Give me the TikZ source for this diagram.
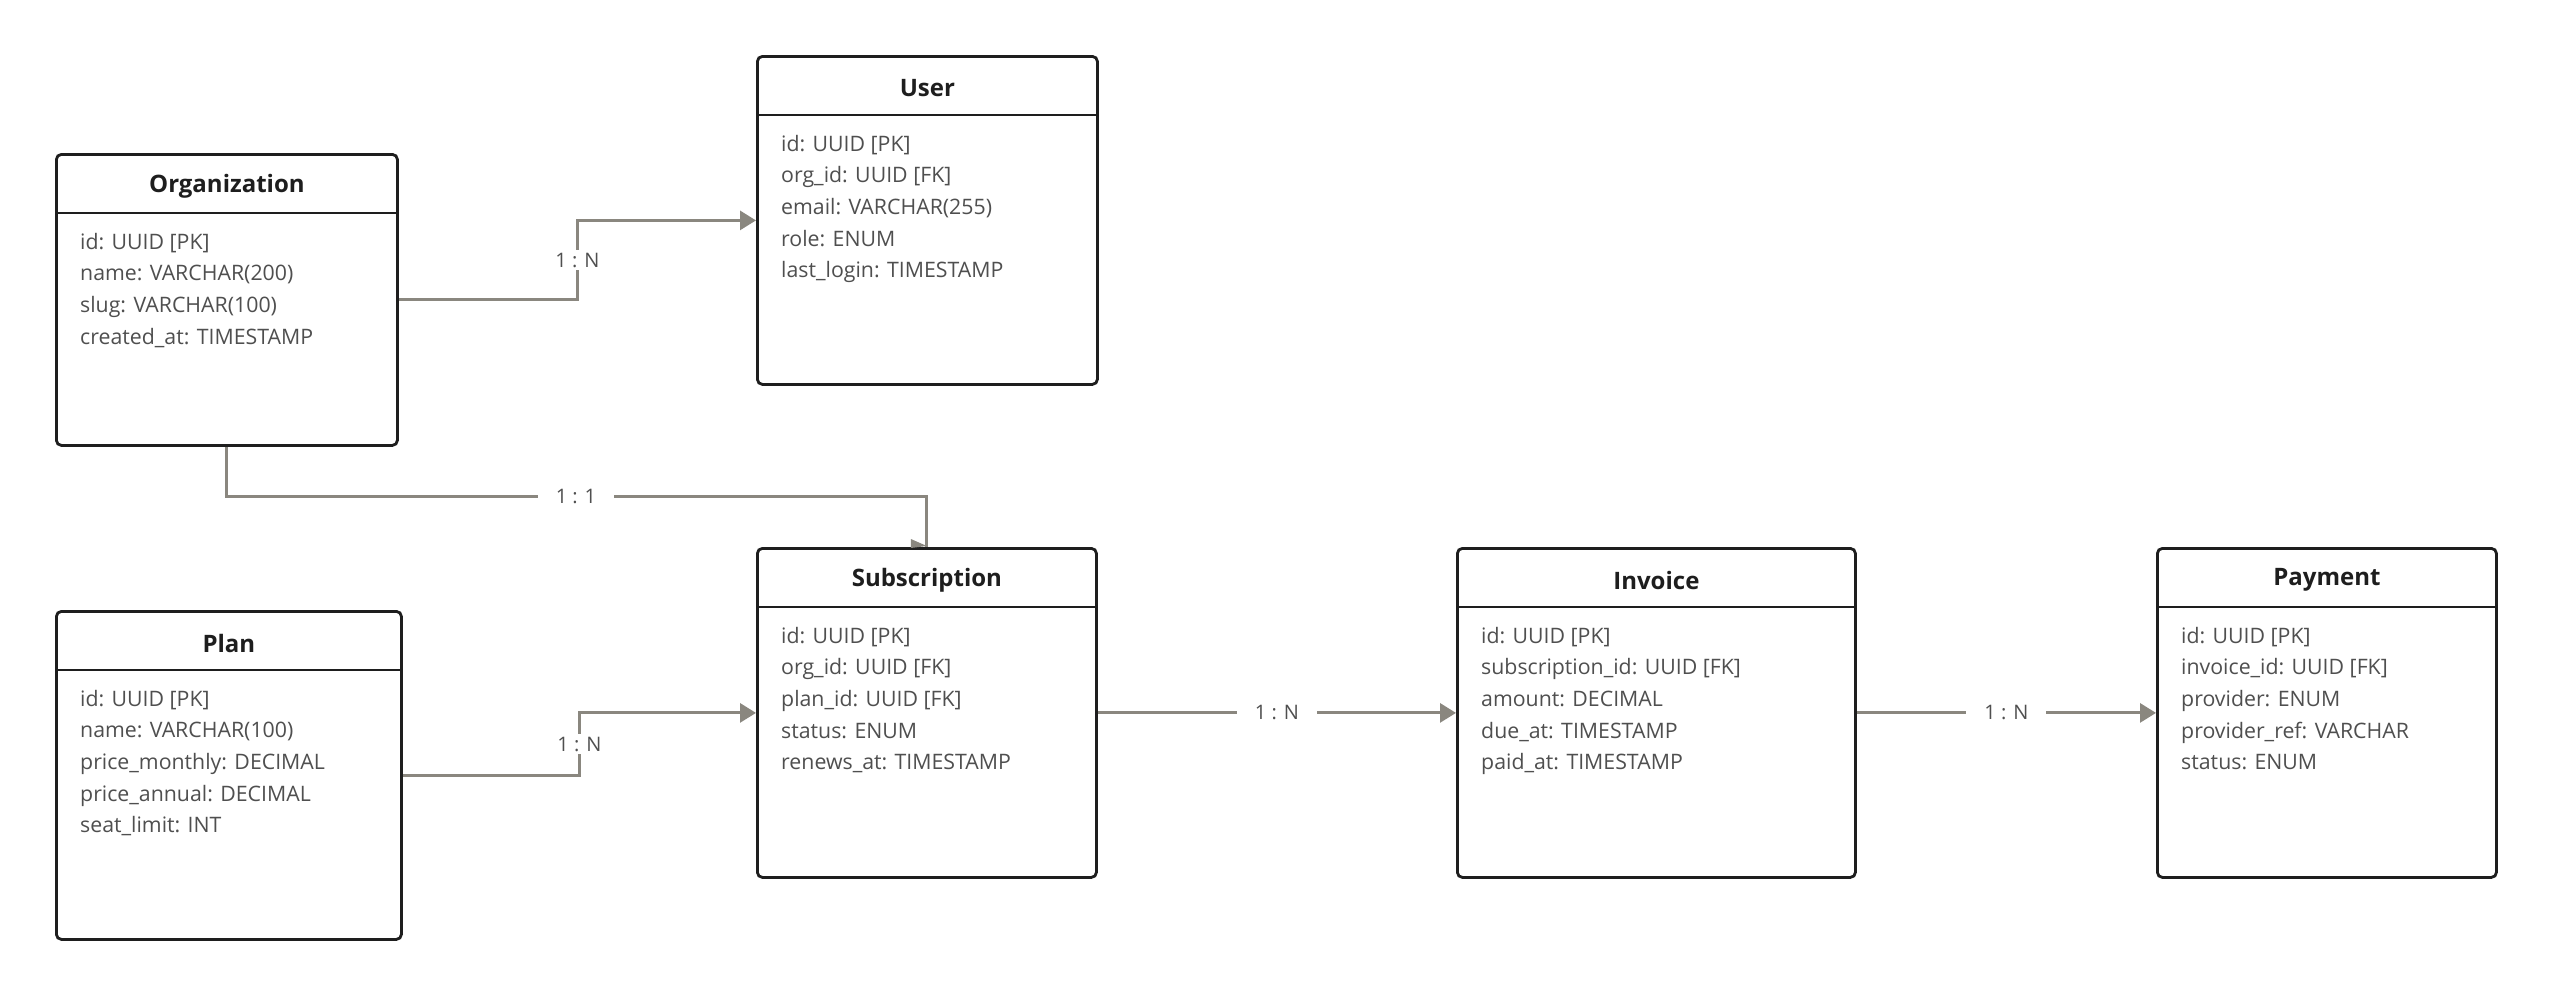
\documentclass[tikz,border=0pt]{standalone}
\usepackage{fontspec}
\setmainfont{Open Sans}
\usetikzlibrary{arrows.meta,calc}
\definecolor{edgec}{HTML}{8A877F}
\definecolor{ink}{HTML}{1E1E1E}
\definecolor{attrc}{HTML}{4F4F4F}
\newcommand\mkentity[7]{%
  \node[entity, minimum width=#4pt, minimum height=#5pt] (#1) at (#2,#3) {};
  \draw[ink, line width=2.8pt] ([yshift=-60pt]#1.north west) -- ([yshift=-60pt]#1.north east);
  \node[etitle] (#1-t) at ([yshift=-33pt]#1.north) {#6};
  \foreach \t [count=\i] in {#7}
    \node[eattr] (#1-\i) at ([xshift=25pt, yshift={-(96+(\i-1)*31.7)*1pt}]#1.north west) {\t};
}
\begin{document}
\begin{tikzpicture}[x=1pt,y=-1pt,
  entity/.style={draw=ink, line width=2.8pt, rounded corners=5pt, fill=white, inner sep=0pt, anchor=north west},
  etitle/.style={font=\fontsize{24}{28}\selectfont\bfseries, text=ink, inner sep=0pt},
  eattr/.style={font=\fontsize{21.3}{24}\selectfont, text=attrc, inner sep=0pt, anchor=base west},
  conn/.style={draw=edgec, line width=3pt, -{Triangle[length=16pt, width=19pt]}},
  plain/.style={draw=edgec, line width=3pt},
  lbl/.style={fill=white, text=attrc, font=\fontsize{20}{24}\selectfont, inner xsep=18pt, inner ysep=3pt}]
\useasboundingbox (0,0) rectangle (2552,994);
\mkentity{org}{55}{153}{341}{291}{Organization}{{id: UUID [PK]},{name: VARCHAR(200)},{slug: VARCHAR(100)},{created\_at: TIMESTAMP}}
\mkentity{user}{756}{55}{340}{328}{User}{{id: UUID [PK]},{org\_id: UUID [FK]},{email: VARCHAR(255)},{role: ENUM},{last\_login: TIMESTAMP}}
\mkentity{plan}{55}{610}{345}{328}{Plan}{{id: UUID [PK]},{name: VARCHAR(100)},{price\_monthly: DECIMAL},{price\_annual: DECIMAL},{seat\_limit: INT}}
\mkentity{sub}{756}{547}{339}{329}{Subscription}{{id: UUID [PK]},{org\_id: UUID [FK]},{plan\_id: UUID [FK]},{status: ENUM},{renews\_at: TIMESTAMP}}
\mkentity{inv}{1456}{547}{398}{329}{Invoice}{{id: UUID [PK]},{subscription\_id: UUID [FK]},{amount: DECIMAL},{due\_at: TIMESTAMP},{paid\_at: TIMESTAMP}}
\mkentity{pay}{2156}{547}{339}{329}{Payment}{{id: UUID [PK]},{invoice\_id: UUID [FK]},{provider: ENUM},{provider\_ref: VARCHAR},{status: ENUM}}
% connectors
\coordinate (m1) at ($(org.east)!0.5!(user.west)$);
\draw[conn] (org.east) -| (m1) |- (user.west);
\node[lbl] (l1) at (m1) {1 : N};
\coordinate (m2) at ($(org.south)!0.5!(sub.north)$);
\coordinate (m2b) at (576,0 |- m2);
\draw[plain] (org.south) |- (m2b) -| (sub.north);
\fill[edgec] ([xshift=-16pt, yshift=8pt]sub.north) -- ([yshift=1pt]sub.north) -- ([xshift=-16pt, yshift=-1pt]sub.north) -- cycle;
\node[lbl] (l2) at (m2b) {1 : 1};
\coordinate (m3) at ($(plan.east)!0.5!(sub.west)$);
\draw[conn] (plan.east) -| (m3) |- (sub.west);
\node[lbl] (l3) at (m3) {1 : N};
\draw[conn] (sub.east) -- (inv.west);
\node[lbl] (l4) at ($(sub.east)!0.5!(inv.west)$) {1 : N};
\draw[conn] (inv.east) -- (pay.west);
\node[lbl] (l5) at ($(inv.east)!0.5!(pay.west)$) {1 : N};
\end{tikzpicture}
\end{document}
